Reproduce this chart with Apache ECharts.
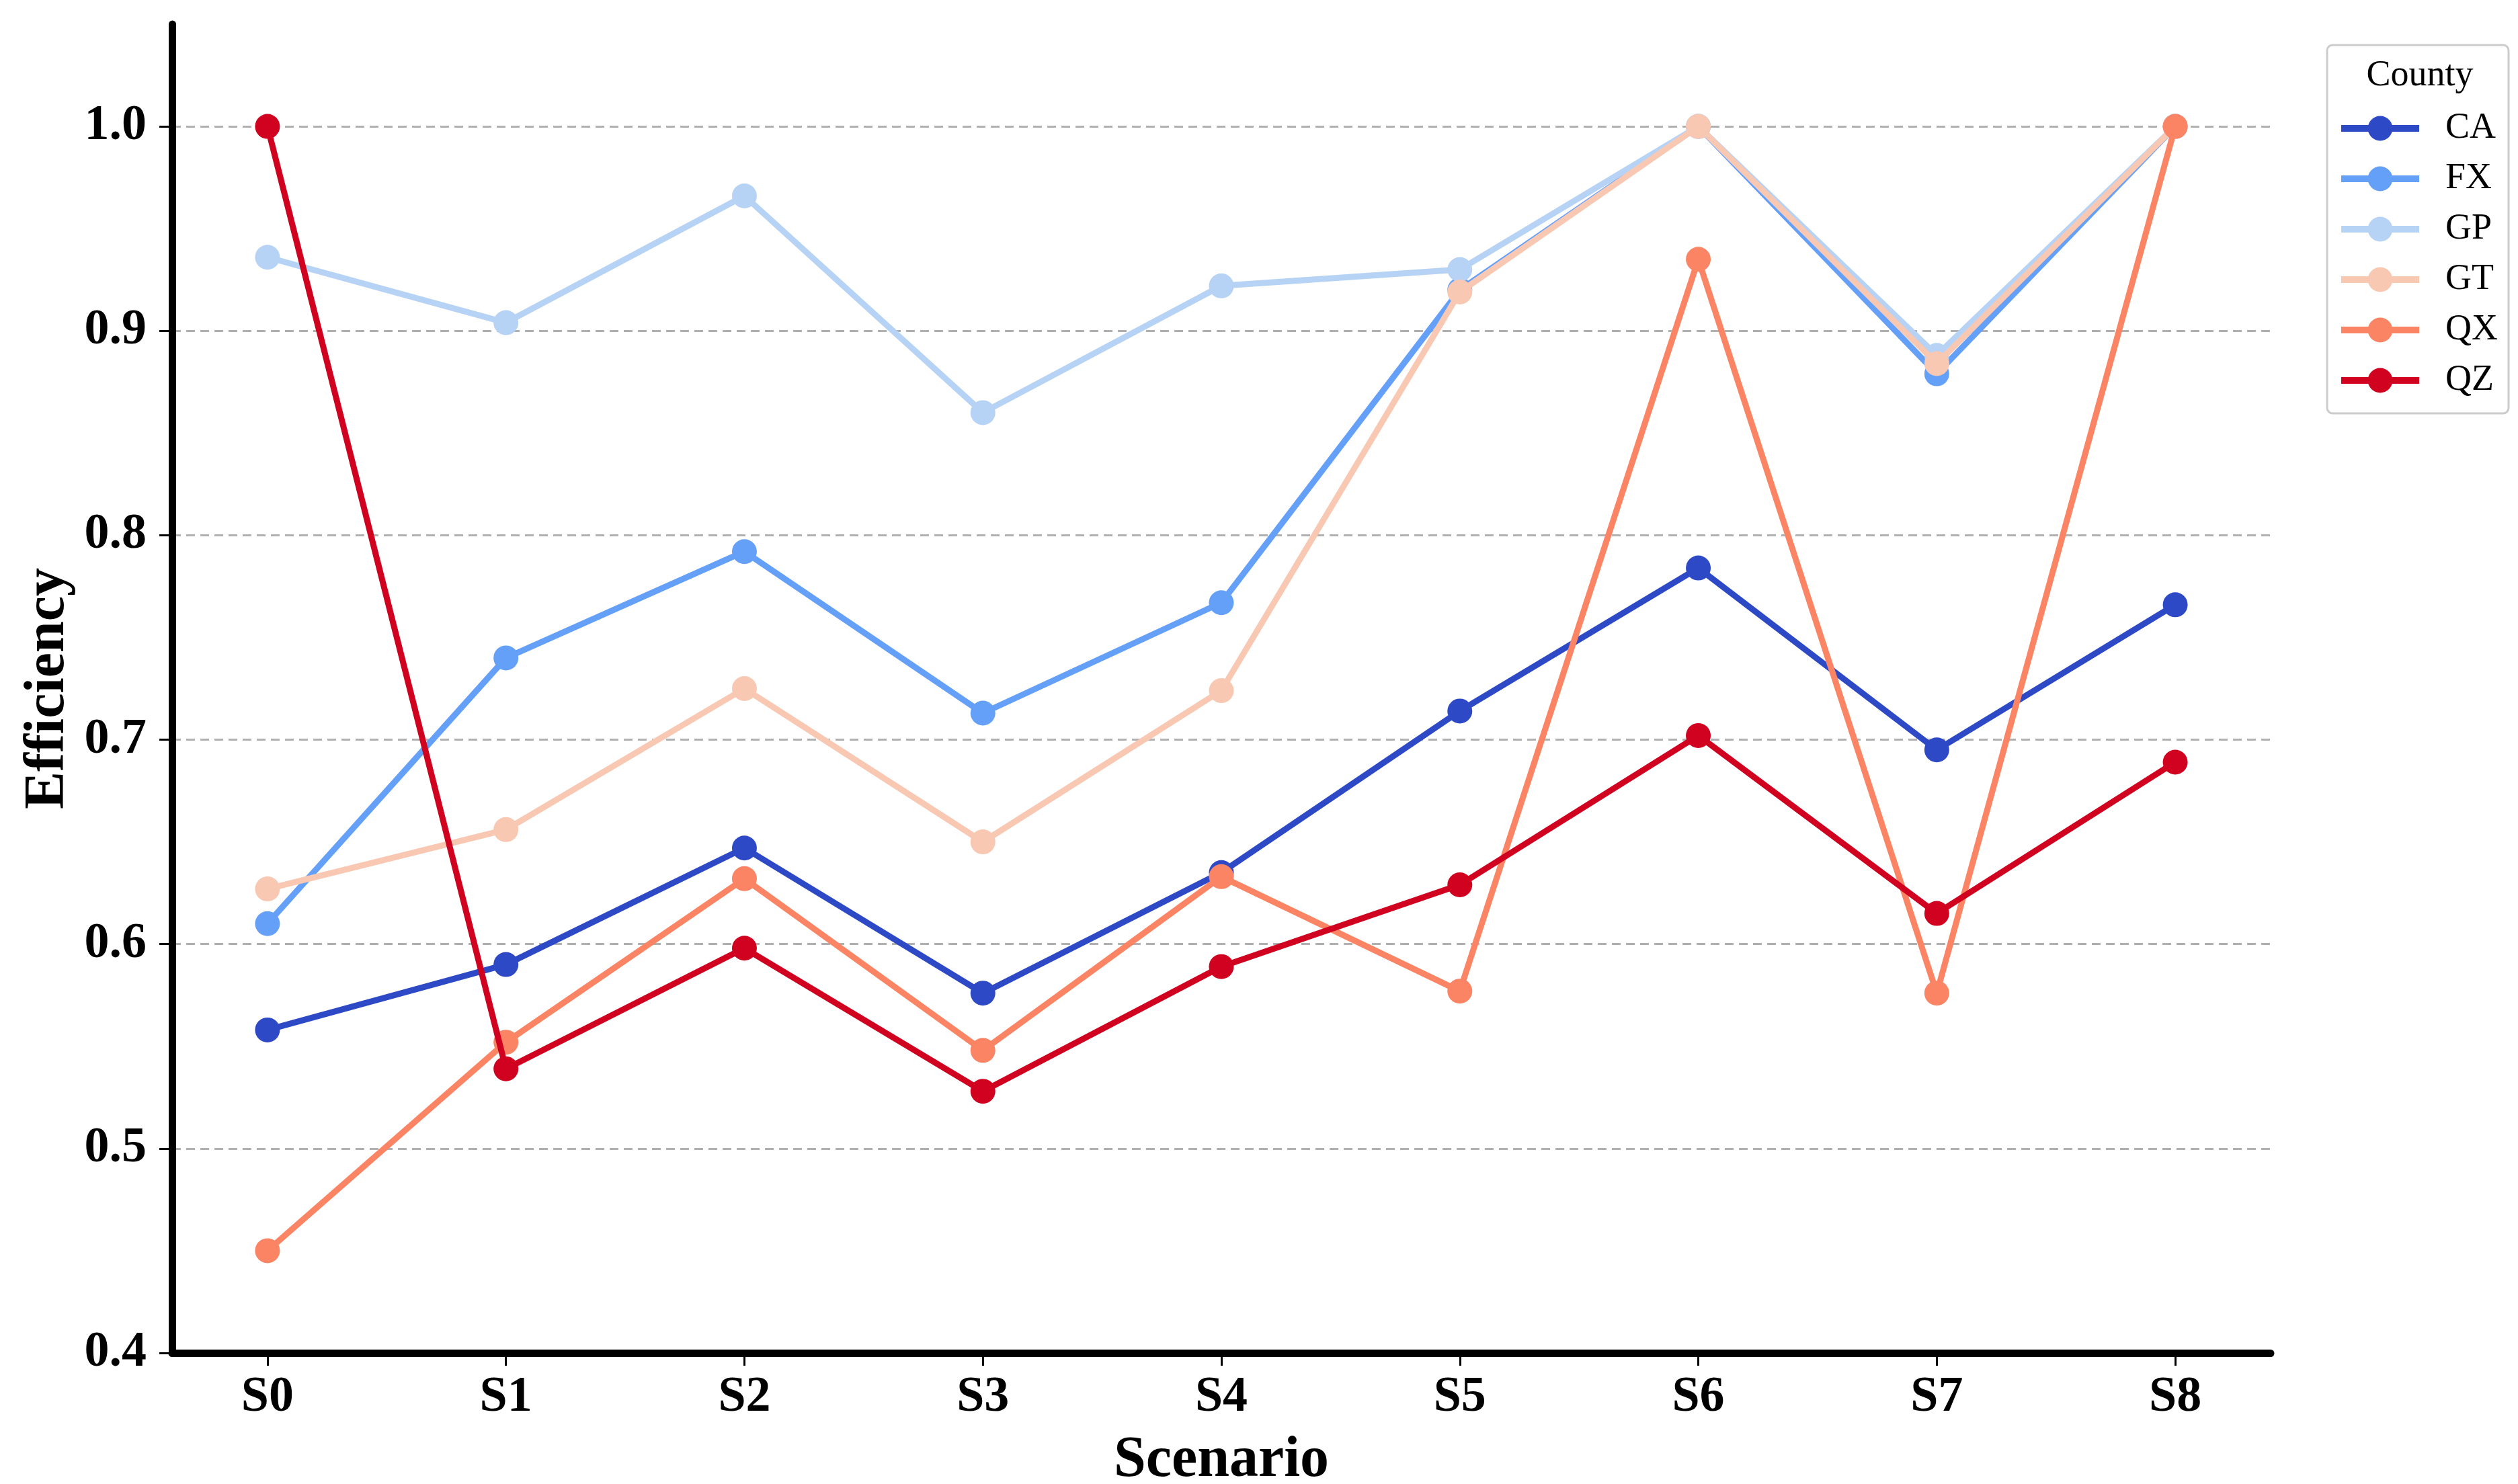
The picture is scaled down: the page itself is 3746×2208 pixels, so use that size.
<!DOCTYPE html>
<html>
<head>
<meta charset="utf-8">
<script src="https://cdn.jsdelivr.net/npm/echarts@6/dist/echarts.min.js"></script>
<style>html,body{margin:0;padding:0;background:#fff}#c{width:3746px;height:2208px}</style>
</head>
<body>
<div id="c"></div>
<script>
const scenarios = ['S0','S1','S2','S3','S4','S5','S6','S7','S8'];
const counties = ['CA','FX','GP','GT','QX','QZ'];
const CA = [0.558, 0.590, 0.647, 0.576, 0.635, 0.714, 0.784, 0.695, 0.766];
const FX = [0.610, 0.740, 0.792, 0.713, 0.767, 0.920, 1.000, 0.879, 1.000];
const GP = [0.936, 0.904, 0.966, 0.860, 0.922, 0.930, 1.000, 0.888, 1.000];
const GT = [0.627, 0.656, 0.725, 0.650, 0.724, 0.919, 1.000, 0.884, 1.000];
const QX = [0.450, 0.552, 0.632, 0.548, 0.633, 0.577, 0.935, 0.576, 1.000];
const QZ = [1.000, 0.539, 0.598, 0.528, 0.589, 0.629, 0.702, 0.615, 0.689];
const yTicks = [0.4, 0.5, 0.6, 0.7, 0.8, 0.9, 1.0];
const seriesValues = [CA, FX, GP, GT, QX, QZ];
const colors = ['#2d49c6', '#64a0f8', '#b6d3f5', '#f9c8b2', '#fa8464', '#d0021f'];

const FONT = '"Liberation Serif", "Times New Roman", serif';
const xIdx = scenarios.map((s, i) => i);

const chart = echarts.init(document.getElementById('c'), null, {renderer: 'canvas'});
chart.setOption({
  backgroundColor: '#ffffff',
  animation: false,
  color: colors,
  title: {
    text: 'County',
    left: 3595,
    top: 81,
    textAlign: 'center',
    z: 10,
    textStyle: {fontFamily: FONT, fontSize: 54, fontWeight: 'normal', color: '#000'}
  },
  legend: {
    orient: 'vertical',
    left: 3462,
    top: 67,
    data: counties,
    itemWidth: 116,
    itemHeight: 46,
    itemGap: 21,
    padding: [97, 16, 22, 16],
    backgroundColor: '#ffffff',
    borderColor: '#cccccc',
    borderWidth: 3,
    borderRadius: 8,
    lineStyle: {width: 10},
    textStyle: {fontFamily: FONT, fontSize: 54, color: '#000', padding: [0, 0, 0, 34]}
  },
  grid: {left: 256, right: 368, top: 36, bottom: 195, containLabel: false, outerBoundsMode: 'none'},
  xAxis: {
    type: 'value',
    min: -0.4,
    max: 8.4,
    name: 'Scenario',
    nameLocation: 'middle',
    nameGap: 118,
    nameTextStyle: {fontFamily: FONT, fontSize: 86, fontWeight: 'bold', color: '#000'},
    axisLine: {show: true, onZero: false, lineStyle: {color: '#000', width: 11}},
    axisTick: {show: true, customValues: xIdx, length: 19, lineStyle: {color: '#000', width: 3}},
    axisLabel: {
      customValues: xIdx,
      formatter: v => scenarios[Math.round(v)],
      fontFamily: FONT, fontSize: 74, fontWeight: 'bold', color: '#000', margin: 30
    },
    splitLine: {show: false}
  },
  yAxis: {
    type: 'value',
    min: 0.4,
    max: 1.05,
    interval: 0.1,
    name: 'Efficiency',
    nameLocation: 'middle',
    nameGap: 140,
    nameTextStyle: {fontFamily: FONT, fontSize: 84, fontWeight: 'bold', color: '#000'},
    axisLine: {show: true, onZero: false, lineStyle: {color: '#000', width: 11}},
    axisTick: {show: true, customValues: yTicks, length: 19, lineStyle: {color: '#000', width: 3}},
    axisLabel: {
      customValues: yTicks,
      formatter: v => v.toFixed(1),
      fontFamily: FONT, fontSize: 74, fontWeight: 'bold', color: '#000', margin: 38
    },
    splitLine: {
      show: true, showMinLine: false,
      lineStyle: {color: '#b0b0b0', width: 3, type: [13, 8]}
    }
  },
  series: counties.map((name, k) => ({
    name: name,
    type: 'line',
    data: seriesValues[k].map((v, i) => [xIdx[i], v]),
    symbol: 'circle',
    symbolSize: 37,
    showSymbol: true,
    lineStyle: {width: 9, color: colors[k]},
    itemStyle: {color: colors[k]},
    z: 2 + k
  }))
});
</script>
</body>
</html>
